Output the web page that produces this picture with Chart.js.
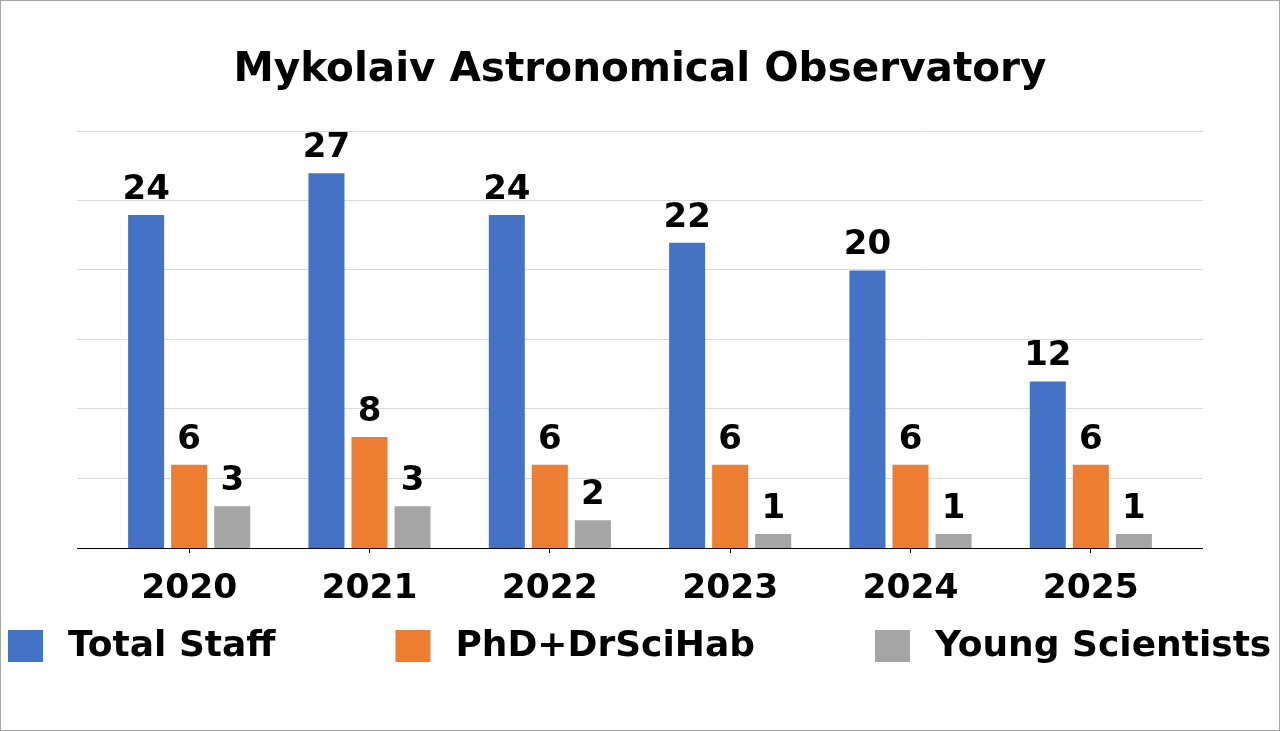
<!DOCTYPE html>
<html>
<head>
<meta charset="utf-8">
<script src="https://cdn.jsdelivr.net/npm/chart.js@4.4.1/dist/chart.umd.min.js"></script>
<style>
  html, body { margin: 0; padding: 0; background: #fff; }
  #wrap { width: 1278px; height: 729px; border: 1px solid #a6a6a6; }
  canvas { display: block; }
</style>
</head>
<body>
<div id="wrap"><canvas id="chart" width="1278" height="729"></canvas></div>
<script>
const years = ["2020", "2021", "2022", "2023", "2024", "2025"];
const totalStaff = [24, 27, 24, 22, 20, 12];
const phdDrSciHab = [6, 8, 6, 6, 6, 6];
const youngScientists = [3, 3, 2, 1, 1, 1];
const seriesNames = ["Total Staff", "PhD+DrSciHab", "Young Scientists"];
const seriesColors = ["#4472C4", "#ED7D31", "#A5A5A5"];
const yMax = 30;
const yStep = 5;

const FONT = "'DejaVu Sans', sans-serif";

// gridlines run a bit past the bar area on both sides, like the original
const gridPlugin = {
  id: 'wideGrid',
  beforeDatasetsDraw(chart) {
    const { ctx, chartArea, scales: { y } } = chart;
    const ext = 22;
    ctx.save();
    ctx.lineWidth = 1;
    y.ticks.forEach((t) => {
      if (t.value === 0) return;
      const py = Math.round(y.getPixelForValue(t.value)) - 0.5;
      ctx.strokeStyle = '#d9d9d9';
      ctx.beginPath();
      ctx.moveTo(chartArea.left - ext, py);
      ctx.lineTo(chartArea.right + ext, py);
      ctx.stroke();
    });
    ctx.restore();
  },
  afterDatasetsDraw(chart) {
    const { ctx, chartArea, scales: { y } } = chart;
    const ext = 22;
    const py = Math.round(y.getPixelForValue(0)) + 0.5;
    ctx.save();
    ctx.strokeStyle = '#000';
    ctx.lineWidth = 1;
    ctx.beginPath();
    ctx.moveTo(chartArea.left - ext, py);
    ctx.lineTo(chartArea.right + ext, py);
    ctx.stroke();
    ctx.restore();
  }
};

// numbers above the bars
const valueLabels = {
  id: 'valueLabels',
  afterDatasetsDraw(chart) {
    const { ctx } = chart;
    ctx.save();
    ctx.font = `bold 34px ${FONT}`;
    ctx.fillStyle = '#000';
    ctx.textAlign = 'center';
    ctx.textBaseline = 'alphabetic';
    chart.data.datasets.forEach((ds, i) => {
      chart.getDatasetMeta(i).data.forEach((bar, j) => {
        ctx.fillText(String(ds.data[j]), bar.x, bar.y - 16);
      });
    });
    ctx.restore();
  }
};

// wide spaced legend under the axis
const bottomLegend = {
  id: 'bottomLegend',
  afterDraw(chart) {
    const { ctx, chartArea } = chart;
    const boxW = 35, boxH = 32, textGap = 25, itemGap = 120;
    ctx.save();
    ctx.font = `bold 36px ${FONT}`;
    const items = chart.data.datasets.map((ds) => ({
      text: ds.label,
      color: ds.backgroundColor,
      w: boxW + textGap + ctx.measureText(ds.label).width
    }));
    const total = items.reduce((s, it) => s + it.w, 0) + itemGap * (items.length - 1);
    let x = Math.round((chart.width - total) / 2);
    const cy = chartArea.bottom + 98;
    ctx.textBaseline = 'middle';
    ctx.textAlign = 'left';
    items.forEach((it) => {
      ctx.fillStyle = it.color;
      ctx.fillRect(x, cy - boxH / 2, boxW, boxH);
      ctx.fillStyle = '#000';
      ctx.fillText(it.text, x + boxW + textGap, cy + 1);
      x += it.w + itemGap;
    });
    ctx.restore();
  }
};

new Chart(document.getElementById('chart'), {
  type: 'bar',
  data: {
    labels: years,
    datasets: [
      { label: seriesNames[0], data: totalStaff, backgroundColor: seriesColors[0] },
      { label: seriesNames[1], data: phdDrSciHab, backgroundColor: seriesColors[1] },
      { label: seriesNames[2], data: youngScientists, backgroundColor: seriesColors[2] }
    ]
  },
  options: {
    responsive: false,
    animation: false,
    devicePixelRatio: 1,
    categoryPercentage: 0.716,
    barPercentage: 0.837,
    layout: { padding: { left: 98, right: 98, top: 0, bottom: 112 } },
    plugins: {
      legend: { display: false },
      tooltip: { enabled: false },
      title: {
        display: true,
        text: 'Mykolaiv Astronomical Observatory',
        color: '#000',
        font: { family: FONT, size: 40.5, weight: 'bold' },
        padding: { top: 45, bottom: 37 }
      }
    },
    scales: {
      x: {
        grid: {
          display: true,
          drawOnChartArea: false,
          drawTicks: true,
          tickLength: 5,
          color: '#000',
          offset: false
        },
        border: { display: false },
        ticks: {
          color: '#000',
          font: { family: FONT, size: 34.5, weight: 'bold' },
          padding: 15,
          maxRotation: 0
        },
        afterFit(scale) { scale.height = 70; }
      },
      y: {
        display: false,
        min: 0,
        max: yMax,
        ticks: { stepSize: yStep }
      }
    }
  },
  plugins: [gridPlugin, valueLabels, bottomLegend]
});
</script>
</body>
</html>
